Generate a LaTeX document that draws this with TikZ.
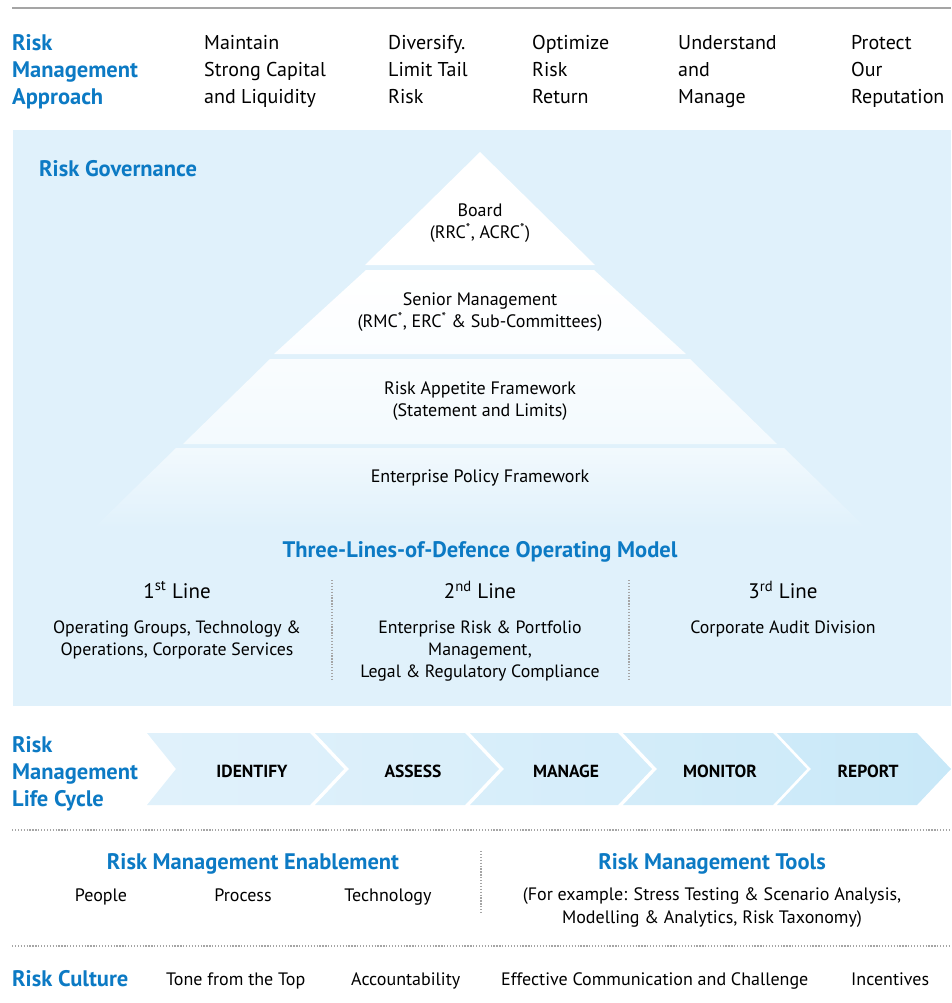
\documentclass[tikz,border=0pt]{standalone}
\usepackage{fontspec}
\setmainfont{PT Sans}
\usetikzlibrary{positioning}

\definecolor{rmblue}{RGB}{12,122,196}
\definecolor{govbg}{RGB}{224,241,251}
\definecolor{cycdark}{RGB}{200,232,248}
\definecolor{rulegray}{RGB}{165,165,165}

\tikzset{
  headtext/.style={text=rmblue, font=\bfseries\fontsize{22.5}{27}\selectfont, align=left, anchor=north west, inner sep=0pt, execute at begin node=\strut},
  approachtext/.style={font=\fontsize{20}{27}\selectfont, align=left, anchor=north west, inner sep=0pt, execute at begin node=\strut},
  pyrtext/.style={font=\fontsize{18}{22}\selectfont, align=center, inner sep=0pt},
  linehead/.style={font=\fontsize{21}{25}\selectfont, inner sep=0pt},
  linetext/.style={font=\fontsize{17.8}{22}\selectfont, align=center, inner sep=0pt, anchor=north},
  bluetitle/.style={text=rmblue, font=\bfseries\fontsize{22.5}{24}\selectfont, inner sep=0pt, anchor=base},
  cyctext/.style={font=\bfseries\fontsize{17.5}{20}\selectfont, inner sep=0pt},
  smalltext/.style={font=\fontsize{18}{23}\selectfont, align=center, inner sep=0pt},
  culturetext/.style={font=\fontsize{18}{22}\selectfont, anchor=base west, inner sep=0pt},
  dotrule/.style={rulegray, line width=1.3pt, dash pattern=on 1.3pt off 1.6pt},
}

\begin{document}
\begin{tikzpicture}[x=1pt, y=-1pt]
  \useasboundingbox (0,0) rectangle (951,1003);

  % top rule and approach row
  \draw [rulegray, line width=2pt] (12,8) -- (951,8);
  \node [headtext] (approach) at (12,34) {Risk\\Management\\Approach};
  \node [approachtext] (capital) at (204,35) {Maintain\\Strong Capital\\and Liquidity};
  \node [approachtext] (diversify) at (388,35) {Diversify.\\Limit Tail\\Risk};
  \node [approachtext] (optimize) at (532,35) {Optimize\\Risk\\Return};
  \node [approachtext] (understand) at (678,35) {Understand\\and\\Manage};
  \node [approachtext] (protect) at (851,35) {Protect\\Our\\Reputation};

  % governance panel
  \fill [govbg] (13,130) rectangle (951,706);
  \node [headtext, anchor=base west, execute at begin node={}] (governance) at (39,176) {Risk Governance};

  % pyramid layers
  \fill [white] (480,152) -- (595,265) -- (365,265) -- cycle;
  \shade [top color=white, bottom color=white!88!govbg] (366,270) -- (594,270) -- (686,354) -- (274,354) -- cycle;
  \shade [top color=white!82!govbg, bottom color=white!62!govbg] (270,359) -- (690,359) -- (777,444) -- (183,444) -- cycle;
  \shade [top color=white!58!govbg, bottom color=govbg] (176,448) -- (784,448) -- (866,528) -- (94,528) -- cycle;

  \node [pyrtext] (board) at (480,223) {Board\\(RRC\textsuperscript{*}, ACRC\textsuperscript{*})};
  \node [pyrtext] (senior) at (480,312) {Senior Management\\(RMC\textsuperscript{*}, ERC\textsuperscript{*} \& Sub-Committees)};
  \node [pyrtext] (appetite) at (480,401) {Risk Appetite Framework\\(Statement and Limits)};
  \node [pyrtext] (policy) at (480,478) {Enterprise Policy Framework};

  % three lines of defence
  \node [bluetitle] (defence) at (480,557) {Three-Lines-of-Defence Operating Model};
  \node [linehead] (first) at (177,590) {1\textsuperscript{st} Line};
  \node [linehead] (second) at (480,590) {2\textsuperscript{nd} Line};
  \node [linehead] (third) at (783,590) {3\textsuperscript{rd} Line};
  \node [linetext] (firsttext) at (177,621) {Operating Groups, Technology \&\\Operations, Corporate Services};
  \node [linetext] (secondtext) at (480,621) {Enterprise Risk \& Portfolio\\Management,\\Legal \& Regulatory Compliance};
  \node [linetext] (thirdtext) at (783,621) {Corporate Audit Division};
  \draw [dotrule] (332,580) -- (332,679);
  \draw [dotrule] (629,580) -- (629,679);

  % life cycle
  \node [headtext] (lifecycle) at (12,736) {Risk\\Management\\Life Cycle};
  \foreach \l/\r/\n/\tx/\name/\shadeA/\shadeB in {147/310/29/252/IDENTIFY/0/12, 315/465/34/413/ASSESS/15/30, 470/618/34/566/MANAGE/33/50, 623/773/34/720/MONITOR/53/72, 777/917/34/868/REPORT/75/100}{
    \shade [left color=cycdark!\shadeA!govbg, right color=cycdark!\shadeB!govbg]
      (\l,733) -- (\r,733) -- (\r+34,769) -- (\r,805) -- (\l,805) -- (\l+\n,769) -- cycle;
    \node [cyctext] (\name) at (\tx,771) {\name};
  }

  % enablement and tools
  \draw [dotrule] (12,830) -- (951,830);
  \node [bluetitle] (enablement) at (253,869) {Risk Management Enablement};
  \node [smalltext, anchor=base] (people) at (101,901) {People};
  \node [smalltext, anchor=base] (process) at (243,901) {Process};
  \node [smalltext, anchor=base] (technology) at (388,901) {Technology};
  \draw [dotrule] (481,851) -- (481,912);
  \node [bluetitle] (tools) at (712,869) {Risk Management Tools};
  \node [smalltext] (examples) at (712,908) {(For example: Stress Testing \& Scenario Analysis,\\Modelling \& Analytics, Risk Taxonomy)};

  % risk culture
  \draw [dotrule] (12,946) -- (951,946);
  \node [headtext, anchor=base west, execute at begin node={}] (culture) at (12,986) {Risk Culture};
  \node [culturetext] (tone) at (166,985) {Tone from the Top};
  \node [culturetext] (account) at (351,985) {Accountability};
  \node [culturetext] (communication) at (501,985) {Effective Communication and Challenge};
  \node [culturetext] (incentives) at (851,985) {Incentives};
\end{tikzpicture}
\end{document}
